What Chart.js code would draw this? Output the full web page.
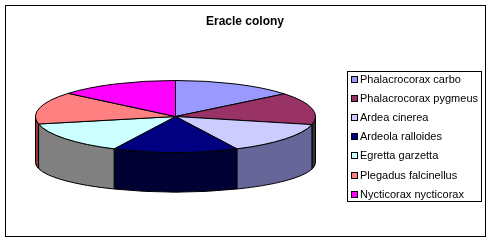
<!DOCTYPE html>
<html>
<head>
<meta charset="utf-8">
<script src="https://cdn.jsdelivr.net/npm/chart.js@4/dist/chart.umd.min.js"></script>
<style>
  html, body { margin: 0; padding: 0; background: #fff; }
  canvas { display: block; }
</style>
</head>
<body>
<canvas id="c" width="492" height="243"></canvas>
<script>
// ---- data ----
const titleText = 'Eracle colony';
const categories = [
  'Phalacrocorax carbo',
  'Phalacrocorax pygmeus',
  'Ardea cinerea',
  'Ardeola ralloides',
  'Egretta garzetta',
  'Plegadus falcinellus',
  'Nycticorax nycticorax'
];
const values = [51, 52, 51, 52, 52, 52, 50];

// ---- styles ----
const topColors  = ['#9999FF', '#993366', '#CCCCFF', '#000080', '#CCFFFF', '#FF8080', '#FF00FF'];
const sideColors = ['#4D4D80', '#333333', '#666699', '#000033', '#808080', '#993333', '#800080'];
const FONT = '"Liberation Sans", Arial, sans-serif';

// 3D pie geometry (layout)
const GEO = { cx: 175.5, cy: 116.5, rx: 140, ry: 36, cyB: 162.5, ryB: 29.5 };

const framePlugin = {
  id: 'frame',
  beforeDraw(chart) {
    const ctx = chart.ctx;
    ctx.save();
    ctx.fillStyle = '#fff';
    ctx.fillRect(0, 0, chart.width, chart.height);
    ctx.strokeStyle = '#000';
    ctx.lineWidth = 1;
    ctx.strokeRect(5.5, 5.5, 480, 231);
    ctx.restore();
  }
};

const pie3dPlugin = {
  id: 'pie3d',
  beforeDatasetsDraw(chart) {
    const ctx = chart.ctx;
    const meta = chart.getDatasetMeta(0);
    const arcs = meta.data;
    const { cx, cy, rx, ry, cyB, ryB } = GEO;
    ctx.save();
    ctx.lineWidth = 1;
    ctx.strokeStyle = '#000';
    ctx.lineJoin = 'miter';
    // side walls (front half: angle 0..PI)
    arcs.forEach((el, i) => {
      const a = Math.max(el.startAngle, 0);
      const b = Math.min(el.endAngle, Math.PI);
      if (b <= a) return;
      ctx.beginPath();
      ctx.ellipse(cx, cy, rx, ry, 0, a, b, false);
      ctx.lineTo(cx + rx * Math.cos(b), cyB + ryB * Math.sin(b));
      ctx.ellipse(cx, cyB, rx, ryB, 0, b, a, true);
      ctx.closePath();
      ctx.fillStyle = sideColors[i];
      ctx.fill();
      ctx.stroke();
    });
    // top face
    arcs.forEach((el, i) => {
      ctx.beginPath();
      ctx.moveTo(cx, cy);
      ctx.ellipse(cx, cy, rx, ry, 0, el.startAngle, el.endAngle, false);
      ctx.closePath();
      ctx.fillStyle = chart.data.datasets[0].backgroundColor[i];
      ctx.fill();
      ctx.stroke();
    });
    ctx.restore();
    return false;
  }
};

const legendPlugin = {
  id: 'boxLegend',
  afterDraw(chart) {
    const ctx = chart.ctx;
    const labels = chart.data.labels;
    const colors = chart.data.datasets[0].backgroundColor;
    ctx.save();
    ctx.fillStyle = '#fff';
    ctx.fillRect(347.5, 71.5, 134, 130);
    ctx.strokeStyle = '#000';
    ctx.lineWidth = 1;
    ctx.strokeRect(347.5, 71.5, 134, 130);
    ctx.font = '11px ' + FONT;
    ctx.textBaseline = 'middle';
    ctx.textAlign = 'left';
    labels.forEach((lab, i) => {
      const yc = 79.5 + i * 19.1;
      const top = Math.round(yc - 3.5);
      ctx.fillStyle = colors[i];
      ctx.fillRect(351, top, 7, 7);
      ctx.strokeStyle = '#000';
      ctx.strokeRect(351.5, top + 0.5, 6, 6);
      ctx.fillStyle = '#000';
      ctx.fillText(lab, 360, yc + 0.5);
    });
    ctx.restore();
  }
};

new Chart(document.getElementById('c'), {
  type: 'pie',
  data: {
    labels: categories,
    datasets: [{
      data: values,
      backgroundColor: topColors,
      borderColor: '#000',
      borderWidth: 1
    }]
  },
  options: {
    responsive: false,
    animation: false,
    events: [],
    layout: { padding: { left: 0, right: 2, top: 0, bottom: 0 } },
    plugins: {
      legend: { display: false },
      tooltip: { enabled: false },
      title: {
        display: true,
        text: titleText,
        color: '#000',
        font: { family: FONT, size: 12, weight: 'bold' },
        padding: { top: 14, bottom: 10 }
      }
    }
  },
  plugins: [framePlugin, pie3dPlugin, legendPlugin]
});
</script>
</body>
</html>
